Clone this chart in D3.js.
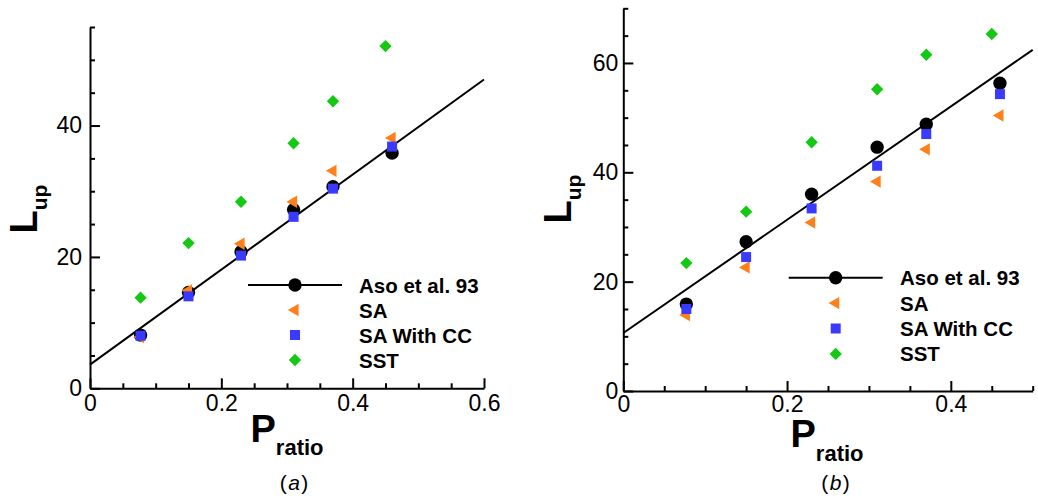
<!DOCTYPE html>
<html>
<head>
<meta charset="utf-8">
<script src="https://cdn.jsdelivr.net/npm/d3@7"></script>
<style>
  html, body { margin: 0; padding: 0; background: #fff; }
  svg { display: block; font-family: "Liberation Sans", Arial, Helvetica, sans-serif; }
</style>
</head>
<body>
<svg id="chart" width="1038" height="500"></svg>
<script>
// ---- data ----
const seriesNames = ["Aso et al. 93", "SA", "SA With CC", "SST"];

// panel (a)
const pRatioA = [0.077, 0.15, 0.23, 0.31, 0.37, 0.46];
const pRatioSstA = [0.077, 0.15, 0.23, 0.31, 0.37, 0.45];
const asoA = [8.1, 14.6, 20.8, 27.2, 30.7, 35.8];
const saA = [7.8, 14.9, 22.0, 28.4, 33.1, 38.1];
const saCcA = [8.0, 14.0, 20.2, 26.1, 30.4, 36.8];
const sstA = [13.8, 22.1, 28.4, 37.3, 43.7, 52.1];
const fitXA = [0, 0.6];
const fitYA = [3.6, 47.0];
const xTicksA = [0, 0.2, 0.4, 0.6];
const xTickLabelsA = ["0", "0.2", "0.4", "0.6"];
const yTicksA = [0, 20, 40];
const yTickLabelsA = ["0", "20", "40"];

// panel (b)
const pRatioB = [0.077, 0.15, 0.23, 0.31, 0.37, 0.46];
const pRatioSstB = [0.077, 0.15, 0.23, 0.31, 0.37, 0.45];
const asoB = [15.9, 27.3, 36.0, 44.6, 48.8, 56.3];
const saB = [13.9, 22.6, 30.8, 38.3, 44.2, 50.4];
const saCcB = [15.0, 24.5, 33.4, 41.2, 47.0, 54.3];
const sstB = [23.4, 32.8, 45.5, 55.2, 61.5, 65.3];
const fitXB = [0, 0.5];
const fitYB = [10.6, 62.4];
const xTicksB = [0, 0.2, 0.4];
const xTickLabelsB = ["0", "0.2", "0.4"];
const yTicksB = [0, 20, 40, 60];
const yTickLabelsB = ["0", "20", "40", "60"];

// ---- styling ----
const colors = { aso: "#000000", sa: "#ff7f1a", saCc: "#3a3aff", sst: "#14c814" };

const svg = d3.select("#chart");

const symCircle = d3.symbol().type(d3.symbolCircle).size(140)();
const symSquare = d3.symbol().type(d3.symbolSquare).size(100)();
const symTri = d3.symbol().type(d3.symbolTriangle).size(66)();
const symDiamond = d3.symbol().type(d3.symbolSquare).size(76)();

function marker(g, kind, cx, cy) {
  if (kind === "aso") {
    g.append("path").attr("d", symCircle).attr("fill", colors.aso)
      .attr("transform", `translate(${cx},${cy})`);
  } else if (kind === "sa") {
    g.append("path").attr("d", symTri).attr("fill", colors.sa)
      .attr("transform", `translate(${cx},${cy}) rotate(-90)`);
  } else if (kind === "saCc") {
    g.append("path").attr("d", symSquare).attr("fill", colors.saCc)
      .attr("transform", `translate(${cx},${cy})`);
  } else {
    g.append("path").attr("d", symDiamond).attr("fill", colors.sst)
      .attr("transform", `translate(${cx},${cy}) rotate(45)`);
  }
}

function drawPanel(cfg) {
  const x = d3.scaleLinear().domain(cfg.xDomain).range([cfg.left, cfg.right]);
  const y = d3.scaleLinear().domain(cfg.yDomain).range([cfg.bottom, cfg.top]);
  const g = svg.append("g");

  // minor ticks
  const xMinor = d3.range(cfg.xDomain[0], cfg.xDomain[1] + 1e-9, 0.05)
    .filter(v => !cfg.xTicks.some(t => Math.abs(t - v) < 1e-6));
  const yMinor = d3.range(cfg.yDomain[0], cfg.yDomain[1] + 1e-9, 5)
    .filter(v => !cfg.yTicks.some(t => Math.abs(t - v) < 1e-6));

  g.append("g").attr("transform", `translate(0,${cfg.bottom})`)
    .call(d3.axisBottom(x).tickValues(xMinor).tickSize(-5).tickSizeOuter(0).tickFormat(""))
    .call(a => a.select(".domain").remove());
  g.append("g").attr("transform", `translate(${cfg.left},0)`)
    .call(d3.axisLeft(y).tickValues(yMinor).tickSize(-5).tickSizeOuter(0).tickFormat(""))
    .call(a => a.select(".domain").remove());

  // major axes
  const xa = g.append("g").attr("transform", `translate(0,${cfg.bottom})`)
    .call(d3.axisBottom(x).tickValues(cfg.xTicks).tickSize(-10).tickSizeOuter(0)
      .tickPadding(cfg.xPad).tickFormat((d, i) => cfg.xLabels[i]));
  const ya = g.append("g").attr("transform", `translate(${cfg.left},0)`)
    .call(d3.axisLeft(y).tickValues(cfg.yTicks).tickSize(-10).tickSizeOuter(0)
      .tickPadding(cfg.yPad).tickFormat((d, i) => cfg.yLabels[i]));
  [xa, ya].forEach(a => {
    a.selectAll("path, line").attr("stroke", "#000").attr("stroke-width", 2);
    a.selectAll("text").attr("font-size", 23).attr("fill", "#000")
      .attr("font-family", "'Liberation Sans', Arial, Helvetica, sans-serif");
  });
  g.selectAll("line").attr("stroke", "#000").attr("stroke-width", 2);

  // fitted line
  const line = d3.line().x(d => x(d[0])).y(d => y(d[1]));
  g.append("path").attr("d", line(d3.zip(cfg.fitX, cfg.fitY)))
    .attr("fill", "none").attr("stroke", "#000").attr("stroke-width", 2);

  // data markers
  cfg.aso.forEach((v, i) => marker(g, "aso", x(cfg.px[i]), y(v)));
  cfg.sa.forEach((v, i) => marker(g, "sa", x(cfg.px[i]), y(v)));
  cfg.saCc.forEach((v, i) => marker(g, "saCc", x(cfg.px[i]), y(v)));
  cfg.sst.forEach((v, i) => marker(g, "sst", x(cfg.pxSst[i]), y(v)));

  // legend
  const lg = g.append("g");
  const kinds = ["aso", "sa", "saCc", "sst"];
  kinds.forEach((k, i) => {
    const ly = cfg.legY + i * cfg.legStep;
    if (k === "aso") {
      lg.append("line").attr("x1", cfg.legMx - 47).attr("x2", cfg.legMx + 47)
        .attr("y1", ly).attr("y2", ly).attr("stroke", "#000").attr("stroke-width", 2);
    }
    marker(lg, k, cfg.legMx, ly);
    lg.append("text").attr("x", cfg.legTx).attr("y", ly + 7.5)
      .attr("font-size", 20.5).attr("font-weight", "bold").text(seriesNames[i]);
  });

  // axis titles
  const xt = g.append("text").attr("x", cfg.xTitleX).attr("y", cfg.xTitleY)
    .attr("text-anchor", "middle").attr("font-weight", "bold");
  xt.append("tspan").attr("font-size", 38).text("P");
  xt.append("tspan").attr("font-size", 22).attr("dy", cfg.xSubDy).text("ratio");

  const yt = g.append("text")
    .attr("transform", `translate(${cfg.yTitleX},${cfg.yTitleY}) rotate(-90)`)
    .attr("text-anchor", "middle").attr("font-weight", "bold");
  yt.append("tspan").attr("font-size", 38).text("L");
  yt.append("tspan").attr("font-size", 21).attr("dy", 10).text("up");

  // panel tag
  const tag = g.append("text").attr("x", cfg.tagX).attr("y", 490)
    .attr("text-anchor", "middle").attr("font-size", 21);
  tag.append("tspan").text("(");
  tag.append("tspan").attr("font-style", "italic").attr("dx", 1.5).text(cfg.tag);
  tag.append("tspan").attr("dx", 1.5).text(")");
}

drawPanel({
  xDomain: [0, 0.6], yDomain: [0, 55],
  left: 90, right: 484, top: 27, bottom: 388.3,
  xTicks: xTicksA, xLabels: xTickLabelsA, yTicks: yTicksA, yLabels: yTickLabelsA,
  xPad: 6, yPad: 8,
  px: pRatioA, pxSst: pRatioSstA,
  aso: asoA, sa: saA, saCc: saCcA, sst: sstA,
  fitX: fitXA, fitY: fitYA,
  legY: 285, legStep: 25, legMx: 295, legTx: 359,
  xTitleX: 287, xTitleY: 442, xSubDy: 13,
  yTitleX: 37, yTitleY: 209,
  tagX: 294, tag: "a"
});

drawPanel({
  xDomain: [0, 0.5], yDomain: [0, 70],
  left: 623.3, right: 1032.7, top: 8.3, bottom: 391,
  xTicks: xTicksB, xLabels: xTickLabelsB, yTicks: yTicksB, yLabels: yTickLabelsB,
  xPad: 5, yPad: 5,
  px: pRatioB, pxSst: pRatioSstB,
  aso: asoB, sa: saB, saCc: saCcB, sst: sstB,
  fitX: fitXB, fitY: fitYB,
  legY: 277.7, legStep: 25.4, legMx: 835.7, legTx: 900,
  xTitleX: 827, xTitleY: 447, xSubDy: 14,
  yTitleX: 571, yTitleY: 199,
  tagX: 835.5, tag: "b"
});
</script>
</body>
</html>
